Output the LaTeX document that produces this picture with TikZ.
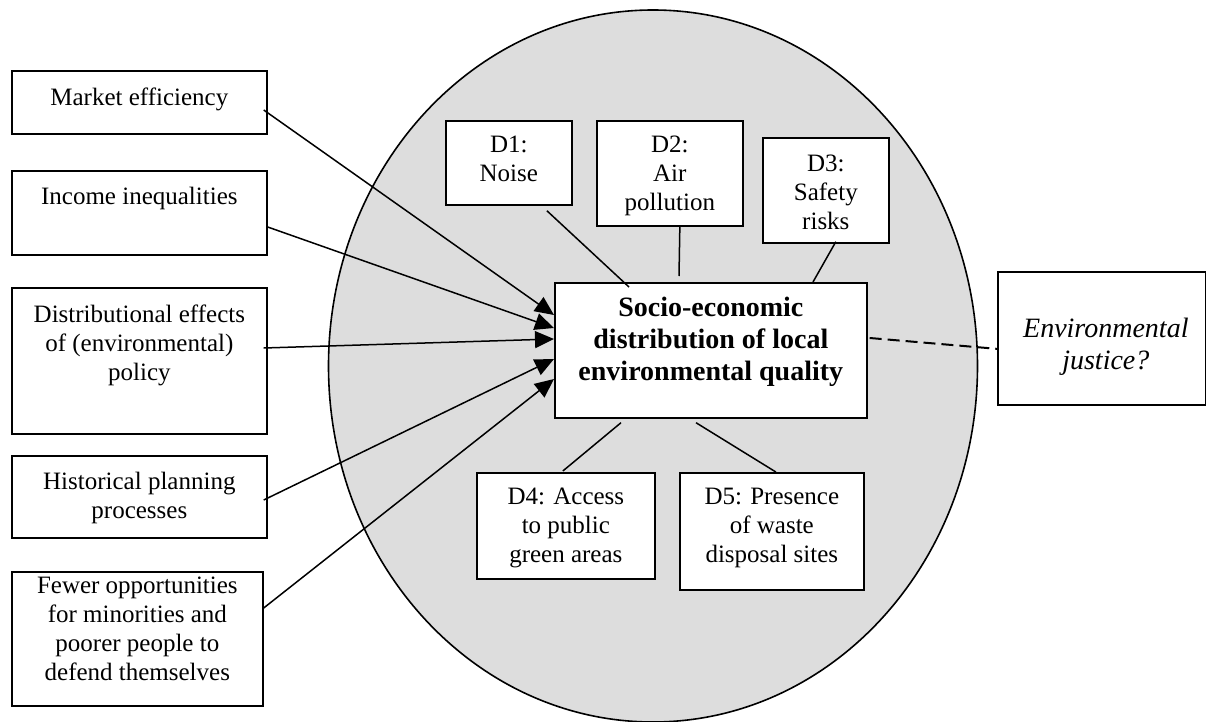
\documentclass[tikz,border=0pt]{standalone}
\usepackage{fontspec}
\setmainfont{Liberation Serif}
\usetikzlibrary{arrows.meta,calc}
\definecolor{circgray}{RGB}{221,221,221}
\begin{document}
\begin{tikzpicture}[x=0.5pt,y=-0.5pt,
  box/.style={draw, fill=white, line width=0.85pt, inner sep=0pt, anchor=north west},
  txt/.style={anchor=north, inner sep=0pt, align=center, font=\fontsize{12.5}{14.5}\selectfont},
  ctrtxt/.style={txt, font=\fontsize{14}{15.8}\selectfont\bfseries},
  envtxt/.style={txt, font=\fontsize{14}{15.8}\selectfont\itshape},
  link/.style={line width=0.75pt},
  arr/.style={link, -{Triangle[length=9.5pt,width=8.5pt]}},
]
\useasboundingbox (0,0) rectangle (1206,722);
% background ellipse
\filldraw[fill=circgray, draw=black, line width=0.8pt] (653,366) ellipse [x radius=324.5, y radius=356];

% left boxes
\node[box, minimum width=127.5pt, minimum height=31.5pt] (mkt) at (11,70) {};
\node[txt] (mktT) at ($(mkt.north)+(0,17)$) {Market efficiency};
\node[box, minimum width=127.5pt, minimum height=42pt] (inc) at (11,170) {};
\node[txt] (incT) at ($(inc.north)+(0,17)$) {Income inequalities};
\node[box, minimum width=127.5pt, minimum height=73pt] (dis) at (11,287) {};
\node[txt] (disT) at ($(dis.north)+(0,17)$) {Distributional effects\\of (environmental)\\policy};
\node[box, minimum width=127.5pt, minimum height=41pt] (his) at (11,455) {};
\node[txt] (hisT) at ($(his.north)+(0,17)$) {Historical planning\\processes};
\node[box, minimum width=125.5pt, minimum height=67pt] (few) at (11,571) {};
\node[txt] (fewT) at ($(few.north)+(0,6)$) {Fewer opportunities\\for minorities and\\poorer people to\\defend themselves};

% centre
\node[box, minimum width=156pt, minimum height=67.5pt] (ctr) at (554,282) {};
\node[ctrtxt] (ctrT) at ($(ctr.north)+(0,15)$) {Socio-economic\\distribution of local\\environmental quality};

% D boxes
\node[box, minimum width=63pt, minimum height=42pt] (d1) at (445,120) {};
\node[txt] (d1T) at ($(d1.north)+(0,16)$) {D1:\\Noise};
\node[box, minimum width=73pt, minimum height=52.5pt] (d2) at (596,120) {};
\node[txt] (d2T) at ($(d2.north)+(0,16)$) {D2:\\Air\\pollution};
\node[box, minimum width=63pt, minimum height=52.5pt] (d3) at (762,137) {};
\node[txt] (d3T) at ($(d3.north)+(0,18)$) {D3:\\Safety\\risks};
\node[box, minimum width=89pt, minimum height=53pt] (d4) at (476,472) {};
\node[txt] (d4T) at ($(d4.north)+(0,16)$) {D4: Access\\to public\\green areas};
\node[box, minimum width=92pt, minimum height=58.5pt] (d5) at (679,472) {};
\node[txt] (d5T) at ($(d5.north)+(0,16)$) {D5: Presence\\of waste\\disposal sites};

% environmental justice
\node[box, minimum width=104pt, minimum height=66.5pt] (env) at (997,271) {};
\node[envtxt] (envT) at ($(env.north)+(4,47)$) {Environmental\\justice?};

% arrows from causes
\draw[arr] ($(mkt.north east)+(-4,40)$) -- ($(ctr.north west)+(0,33)$);
\draw[arr] ($(inc.north east)+(0,57)$) -- ($(ctr.north west)+(0,46)$);
\draw[arr] ($(dis.north east)+(-4,61)$) -- ($(ctr.north west)+(0,57)$);
\draw[arr] ($(his.north east)+(-4,45)$) -- ($(ctr.north west)+(0,77)$);
\draw[arr] ($(few.north east)+(0,37)$) -- ($(ctr.north west)+(0,97)$);

% dimension links
\draw[link] ($(d1.south)+(38,5)$) -- ($(ctr.north west)+(75,5)$);
\draw[link] ($(d2.south)+(10,0)$) -- ($(ctr.north west)+(125,-6)$);
\draw[link] ($(d3.south)+(10,-2)$) -- ($(ctr.north west)+(259,0)$);
\draw[link] ($(ctr.south west)+(67,4)$) -- ($(d4.north)+(-3,-1)$);
\draw[link] ($(ctr.south west)+(142,4)$) -- ($(d5.north)+(4,0)$);

% dashed link
\draw[line width=1pt, dash pattern=on 6pt off 3pt] ($(ctr.north east)+(2,56)$) -- ($(env.west)+(0,10.5)$);
\end{tikzpicture}
\end{document}
